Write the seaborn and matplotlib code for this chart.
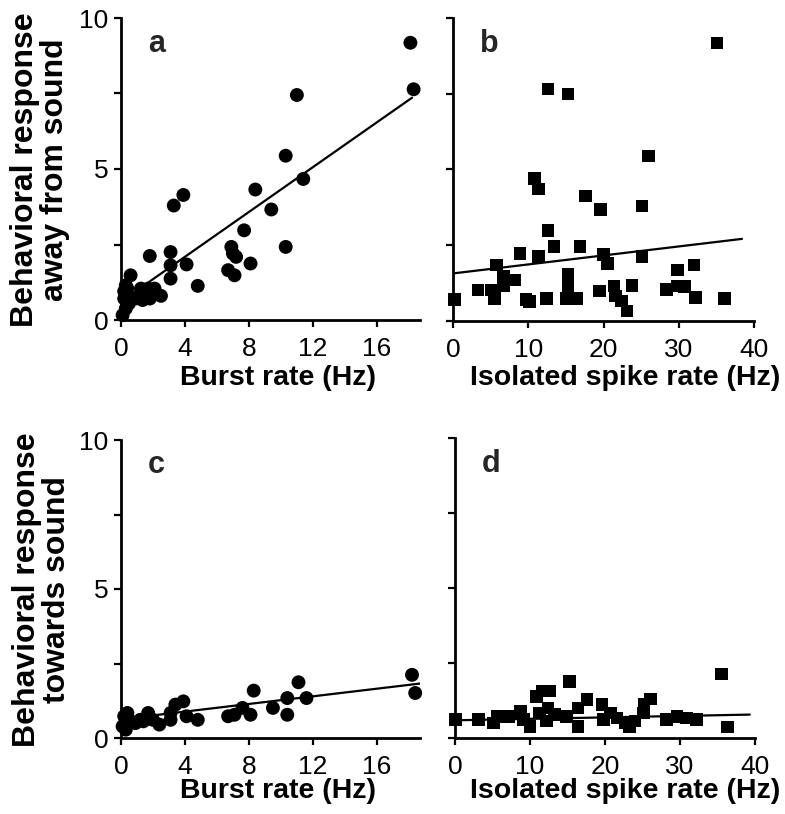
import matplotlib
matplotlib.use("Agg")
import matplotlib.pyplot as plt
import seaborn as sns
import pandas as pd
import numpy as np

# ---------------- data ----------------
# panel a: burst rate vs response away from sound
a_x = [18.1, 18.3, 11.0, 10.3, 11.4, 8.4, 9.4, 3.9, 3.3, 7.7, 10.3, 6.9, 7.0, 7.2,
       8.1, 6.7, 7.1, 4.8, 4.1, 3.1, 3.1, 3.1, 1.8, 2.5, 0.6,
       0.4, 1.25, 1.5, 1.7, 2.1, 1.35, 1.8, 0.2, 0.3, 0.1, 0.9, 0.3, 0.2, 0.5]
a_y = [9.18, 7.64, 7.45, 5.44, 4.67, 4.32, 3.66, 4.14, 3.79, 2.97, 2.42, 2.42, 2.20, 2.09,
       1.87, 1.65, 1.48, 1.13, 1.84, 2.25, 1.81, 1.37, 2.12, 0.80, 1.48,
       1.04, 1.04, 0.93, 1.04, 1.04, 0.66, 0.71, 0.71, 0.38, 0.16, 0.71, 1.15, 0.95, 0.55]
a_fit_x = [0.0, 18.2]
a_fit_y = [0.61, 7.36]

# panel b: isolated spike rate vs response away from sound
b_x = [35.1, 12.6, 15.3, 26.0, 10.8, 11.4, 17.6, 19.6, 25.1, 12.6, 8.9, 13.4, 16.9, 11.4,
       20.0, 20.5, 25.1, 5.8, 6.7, 6.7, 8.2, 15.3, 29.8, 32.0, 3.3, 5.1, 5.5, 9.7, 10.2,
       12.4, 15.1, 15.3, 16.4, 19.5, 21.4, 21.6, 22.4, 23.1, 23.8, 28.4, 29.8, 30.8, 32.2,
       36.1, 0.2]
b_y = [9.18, 7.66, 7.49, 5.44, 4.70, 4.36, 4.12, 3.68, 3.79, 2.99, 2.23, 2.45, 2.45, 2.12,
       2.20, 1.90, 2.12, 1.85, 1.48, 1.15, 1.35, 1.54, 1.68, 1.85, 1.02, 1.02, 0.74, 0.71, 0.64,
       0.74, 0.74, 1.13, 0.74, 0.99, 1.15, 0.82, 0.66, 0.33, 1.18, 1.04, 1.15, 1.13, 0.77,
       0.74, 0.71]
b_fit_x = [0.0, 38.4]
b_fit_y = [1.57, 2.71]

# panel c: burst rate vs response towards sound
c_x = [18.2, 18.4, 11.1, 11.6, 10.4, 10.4, 9.5, 8.3, 8.1, 7.6, 7.1, 6.7, 4.8, 4.1, 3.9,
       3.4, 3.1, 3.1, 2.4, 1.7, 2.0, 0.2, 0.5, 0.9, 0.3, 0.1, 1.2, 1.4, 0.4]
c_y = [2.12, 1.51, 1.87, 1.34, 1.34, 0.78, 1.01, 1.59, 0.78, 1.01, 0.78, 0.73, 0.61, 0.73, 1.23,
       1.12, 0.84, 0.61, 0.45, 0.84, 0.61, 0.73, 0.61, 0.50, 0.28, 0.39, 0.61, 0.56, 0.84]
c_fit_x = [0.0, 18.9]
c_fit_y = [0.63, 1.84]

# panel d: isolated spike rate vs response towards sound
d_x = [35.5, 36.3, 15.3, 10.9, 11.6, 12.6, 17.6, 26.1, 25.2, 19.6, 12.4, 8.7, 5.6, 3.1,
       16.4, 14.9, 16.4, 10.0, 11.3, 12.2, 13.3, 7.1, 5.1, 9.1, 19.8, 20.7, 21.6, 22.7,
       23.3, 24.0, 25.1, 28.2, 29.6, 30.9, 32.2, 0.1]
d_y = [2.14, 0.36, 1.89, 1.39, 1.56, 1.56, 1.28, 1.30, 1.11, 1.11, 1.00, 0.89, 0.72, 0.61,
       1.00, 0.72, 0.39, 0.39, 0.83, 0.56, 0.78, 0.72, 0.50, 0.61, 0.61, 0.83, 0.67, 0.50,
       0.39, 0.56, 0.83, 0.61, 0.72, 0.67, 0.61, 0.61]
d_fit_x = [0.0, 39.3]
d_fit_y = [0.59, 0.78]

panel_letters = ["a", "b", "c", "d"]
xlabel_burst = "Burst rate (Hz)"
xlabel_spike = "Isolated spike rate (Hz)"
ylabel_top = "Behavioral response\naway from sound"
ylabel_bot = "Behavioral response\ntowards sound"
burst_ticks = [0, 4, 8, 12, 16]
spike_ticks = [0, 10, 20, 30, 40]
y_major = [0, 5, 10]
y_minor = [2.5, 7.5]

# ---------------- style ----------------
sns.set_style("ticks")
plt.rcParams['font.family'] = ['Liberation Sans', 'DejaVu Sans']

W, H = 785, 814
fig = plt.figure(figsize=(W / 100, H / 100), dpi=100)


def px_axes(left, top, right, bottom):
    return fig.add_axes([left / W, (H - bottom) / H, (right - left) / W, (bottom - top) / H])


ax_a = px_axes(121, 18, 420, 320)
ax_b = px_axes(453, 18, 754, 321)
ax_c = px_axes(121, 440, 420, 738)
ax_d = px_axes(455, 438, 755, 738)

panels = [
    (ax_a, a_x, a_y, a_fit_x, a_fit_y, "o", 100, (0, 18.7), burst_ticks, True),
    (ax_b, b_x, b_y, b_fit_x, b_fit_y, "s", 82, (0, 40), spike_ticks, False),
    (ax_c, c_x, c_y, c_fit_x, c_fit_y, "o", 100, (0, 18.7), burst_ticks, True),
    (ax_d, d_x, d_y, d_fit_x, d_fit_y, "s", 82, (0, 40), spike_ticks, False),
]

for (ax, xs, ys, fx, fy, mk, sz, xl, xt, ylab), letter in zip(panels, panel_letters):
    df = pd.DataFrame({"x": xs, "y": ys})
    sns.scatterplot(data=df, x="x", y="y", marker=mk, s=sz, color="black",
                    edgecolor="none", ax=ax, clip_on=False, zorder=3)
    fdf = pd.DataFrame({"x": fx, "y": fy})
    sns.lineplot(data=fdf, x="x", y="y", color="black", lw=1.6, ax=ax, zorder=4)
    ax.set_xlim(*xl)
    ax.set_ylim(0, 10)
    ax.set_xticks(xt)
    ax.set_yticks(y_major)
    ax.set_yticks(y_minor, minor=True)
    ax.set_xlabel("")
    ax.set_ylabel("")
    if not ylab:
        ax.set_yticklabels([])
    sns.despine(ax=ax)
    for s in ["left", "bottom"]:
        ax.spines[s].set_linewidth(2.0)
        ax.spines[s].set_color("black")
    ax.tick_params(axis="both", which="both", direction="out", length=5, width=1.6,
                   colors="black", labelsize=19)
    ax.tick_params(axis="x", pad=7)
    ax.tick_params(axis="y", pad=4)
    ax.text(0.09, 0.915, letter, transform=ax.transAxes, fontsize=22, fontweight="bold",
            ha="left", va="center")

# axis labels placed in pixel positions
def ftext(x, y, s, size, **kw):
    fig.text(x / W, (H - y) / H, s, fontsize=size, fontweight="bold", color="black", **kw)

ftext(278, 378, xlabel_burst, 20.5, ha="center", va="center")
ftext(625, 378, xlabel_spike, 20.5, ha="center", va="center")
ftext(278, 791, xlabel_burst, 20.5, ha="center", va="center")
ftext(625, 791, xlabel_spike, 20.5, ha="center", va="center")
ftext(40, 170, ylabel_top, 23, ha="center", va="center", rotation=90, linespacing=1.02)
ftext(42, 590, ylabel_bot, 23, ha="center", va="center", rotation=90, linespacing=1.02)

fig.savefig("out.png", dpi=100, facecolor="white")
